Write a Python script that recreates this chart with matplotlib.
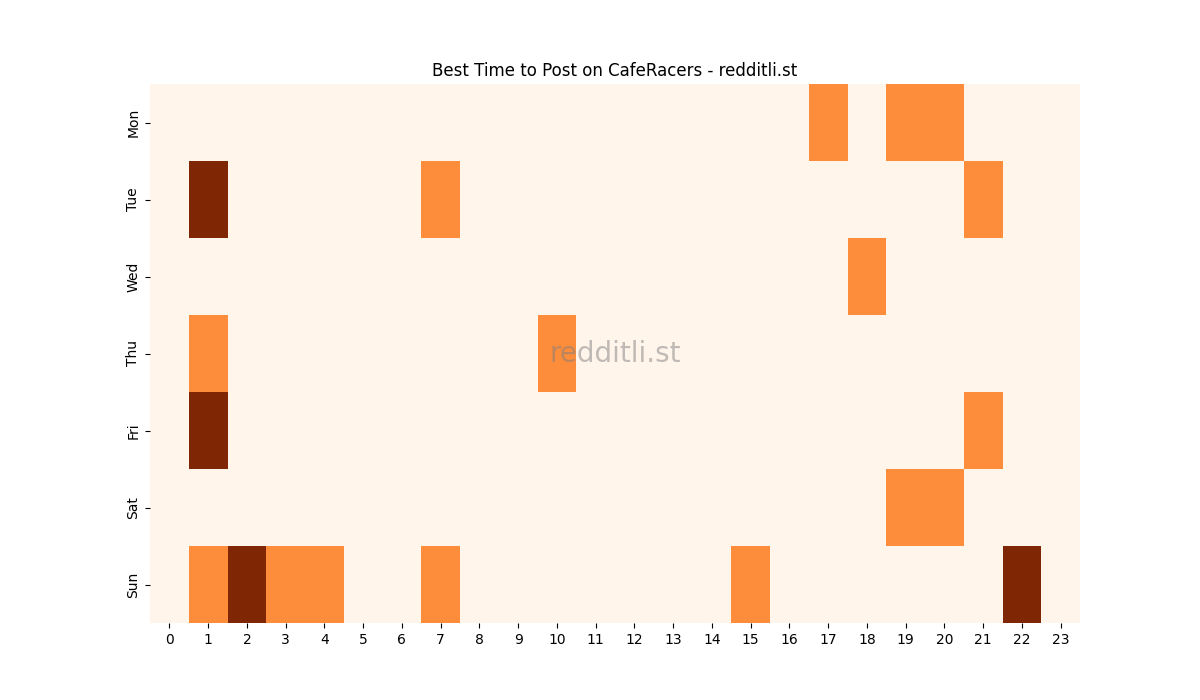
import numpy as np
import matplotlib
matplotlib.use("Agg")
import matplotlib.pyplot as plt
import seaborn as sns

days = ["Mon", "Tue", "Wed", "Thu", "Fri", "Sat", "Sun"]
hours = list(range(24))

# (hour, level) per day: 1 = good, 2 = best
mon = {17: 1, 19: 1, 20: 1}
tue = {1: 2, 7: 1, 21: 1}
wed = {18: 1}
thu = {1: 1, 10: 1}
fri = {1: 2, 21: 1}
sat = {19: 1, 20: 1}
sun = {1: 1, 2: 2, 3: 1, 4: 1, 7: 1, 15: 1, 22: 2}

grid = np.zeros((len(days), len(hours)))
for row, d in enumerate([mon, tue, wed, thu, fri, sat, sun]):
    for h, v in d.items():
        grid[row, h] = v

fig, ax = plt.subplots(figsize=(12, 7), dpi=100)
sns.heatmap(grid, cmap="Oranges", cbar=False, ax=ax,
            xticklabels=hours, yticklabels=days)
ax.set_yticklabels(days, rotation=90, va="center")
ax.set_xticklabels(hours, rotation=0)
ax.set_title("Best Time to Post on CafeRacers - redditli.st")
ax.text(0.5, 0.5, "redditli.st", transform=ax.transAxes, fontsize=20,
        color="gray", alpha=0.5, ha="center", va="center")

plt.savefig("out.png")
